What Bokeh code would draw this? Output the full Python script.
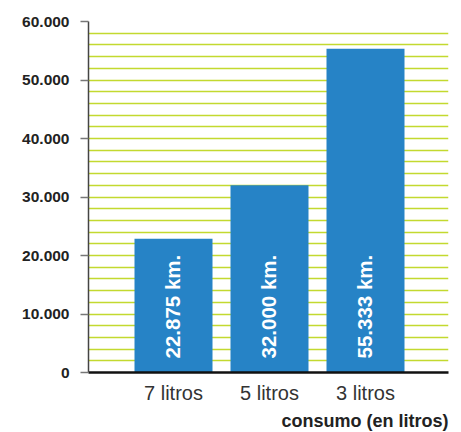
import math
from bokeh.plotting import figure
from bokeh.models import ColumnDataSource, Range1d, FixedTicker, SingleIntervalTicker, Title
from bokeh.core.properties import value
from bokeh.embed import file_html
from bokeh.resources import INLINE

categories = ["7 litros", "5 litros", "3 litros"]
km_values = [22875, 32000, 55333]
bar_labels = ["22.875 km.", "32.000 km.", "55.333 km."]
y_ticks = [0, 10000, 20000, 30000, 40000, 50000, 60000]
y_tick_labels = ["0", "10.000", "20.000", "30.000", "40.000", "50.000", "60.000"]
x_title = "consumo (en litros)"

xs = list(range(1, len(categories) + 1))
src = ColumnDataSource(dict(x=xs, top=km_values, label=bar_labels, base=[0] * len(xs)))

FONT = "Liberation Sans"
x_start = 1 - 85 / 96
x_end = x_start + 360 / 96

p = figure(width=461, height=432, output_backend="svg", toolbar_location=None,
           x_range=Range1d(x_start, x_end), y_range=Range1d(0, 60000),
           min_border_left=88, min_border_right=13, min_border_top=21, min_border_bottom=60)
p.outline_line_color = None
p.background_fill_color = "white"
p.border_fill_color = "white"

p.xgrid.visible = False
p.ygrid.ticker = SingleIntervalTicker(interval=2000)
p.ygrid.grid_line_color = "#c3d92f"
p.ygrid.grid_line_width = 1.6

p.vbar(x="x", top="top", width=78 / 96, source=src, fill_color="#2683c6", line_color=None)

p.text(x="x", y="base", text="label", source=src, angle=math.pi / 2,
       text_align="left", text_baseline="middle", y_offset=-14, x_offset=-1,
       text_color="white", text_font=value(FONT), text_font_style="bold",
       text_font_size="20.5px")

# y axis
ya = p.yaxis[0]
ya.ticker = FixedTicker(ticks=y_ticks)
ya.major_label_overrides = {t: l for t, l in zip(y_ticks, y_tick_labels)}
ya.minor_tick_line_color = None
ya.major_tick_in = 0
ya.major_tick_out = 8
ya.major_tick_line_color = "#777777"
ya.major_tick_line_width = 1.5
ya.axis_line_color = "#444444"
ya.axis_line_width = 1.5
ya.major_label_text_font = FONT
ya.major_label_text_font_style = "bold"
ya.major_label_text_font_size = "15.5px"
ya.major_label_text_color = "#222222"
ya.major_label_text_baseline = "alphabetic"
ya.major_label_standoff = 11

# x axis
xa = p.xaxis[0]
xa.ticker = FixedTicker(ticks=xs)
xa.major_label_overrides = {x: c for x, c in zip(xs, categories)}
xa.minor_tick_line_color = None
xa.major_tick_line_color = None
xa.major_tick_in = 0
xa.major_tick_out = 0
xa.axis_line_color = "#111111"
xa.axis_line_width = 2.5
xa.major_label_text_font = FONT
xa.major_label_text_font_size = "20px"
xa.major_label_text_color = "#333333"
xa.major_label_standoff = 9

t = Title(text=x_title, align="right", text_font=FONT,
          text_font_style="bold", text_font_size="18px", text_color="#222222",
          standoff=4, offset=0)
p.add_layout(t, "below")

open("out.html", "w").write(file_html(p, INLINE))
